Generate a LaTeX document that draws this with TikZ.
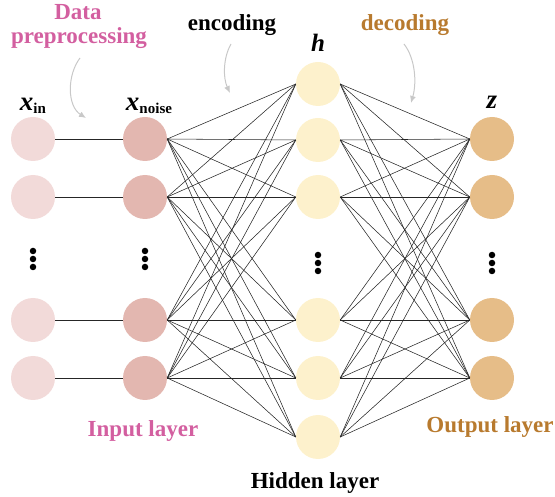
\documentclass[tikz,border=0pt]{standalone}
\usepackage{fontspec}
\setmainfont{Liberation Serif}
\usetikzlibrary{arrows.meta}
\definecolor{xinfill}{HTML}{F2DAD9}
\definecolor{noisefill}{HTML}{E3B7B0}
\definecolor{hidfill}{HTML}{FDF1CC}
\definecolor{outfill}{HTML}{E6BD88}
\definecolor{pinktext}{HTML}{D35FA0}
\definecolor{browntext}{HTML}{B87A2E}
\definecolor{pointer}{HTML}{C8C8C8}
\begin{document}
\begin{tikzpicture}[x=1pt,y=-1pt,
  neuron/.style={circle,draw=none,minimum size=44pt,inner sep=0pt},
  link/.style={draw=black!85,line width=0.55pt},
  lbl/.style={font=\fontsize{23}{27}\selectfont\bfseries,anchor=base,inner sep=0pt},
  var/.style={font=\fontsize{27}{31}\selectfont\bfseries\itshape,anchor=base,inner sep=0pt},
  pointerarrow/.style={draw=pointer,line width=1pt,-{Latex[length=7pt,width=6pt]}},
  dot/.style={circle,fill=black,minimum size=6.5pt,inner sep=0pt}]
\useasboundingbox (0,0) rectangle (555,497);

% layers
\foreach \i/\y in {1/139,2/197,3/320,4/378}{
  \node[neuron,fill=xinfill] (in\i) at (33,\y) {};
  \node[neuron,fill=noisefill] (ns\i) at (145,\y) {};
  \node[neuron,fill=outfill] (out\i) at (492,\y) {};
}
\foreach \j/\y in {1/84,2/140,3/197,4/320,5/378,6/437}{
  \node[neuron,fill=hidfill] (hd\j) at (318,\y) {};
}

% ellipsis dots
\foreach \x/\y in {33/251,145/251,318/255,492/255}{
  \node[dot] at (\x,\y) {};
  \node[dot] at (\x,\y+8) {};
  \node[dot] at (\x,\y+16) {};
}

% connections
\foreach \i in {1,...,4}{
  \draw[link] (in\i.east) -- (ns\i.west);
  \foreach \j in {1,...,6}{
    \draw[link] (ns\i.east) -- (hd\j.west);
    \draw[link] (hd\j.east) -- (out\i.west);
  }
}

% variable names
\node[var] (xin) at (33,111) {x\raisebox{-0.2ex}{\fontsize{15}{18}\selectfont\upshape in}};
\node[var] (xnoise) at (149,111) {x\raisebox{-0.2ex}{\fontsize{15}{18}\selectfont\upshape noise}};
\node[var,font=\fontsize{25}{29}\selectfont\bfseries\itshape] (hname) at (318,52) {h};
\node[var] (zname) at (492,109) {z};

% stage labels
\node[lbl,text=pinktext] (data) at (78,20) {Data};
\node[lbl,text=pinktext] (prep) at (79,44) {preprocessing};
\node[lbl] (enc) at (232,31) {encoding};
\node[lbl,text=browntext] (dec) at (405,31) {decoding};
\node[lbl,text=pinktext] (inlayer) at (143,437) {Input layer};
\node[lbl] (hidlayer) at (315,489) {Hidden layer};
\node[lbl,text=browntext] (outlayer) at (490,432) {Output layer};

% pointer arrows
\coordinate (p1s) at (80,58);
\coordinate (p1e) at (86,118);
\draw[pointerarrow] (p1s) .. controls (67,75) and (67,106) .. (p1e);
\coordinate (p2s) at (231,44);
\coordinate (p2e) at (230,93);
\draw[pointerarrow] (p2s) .. controls (223,58) and (223,78) .. (p2e);
\coordinate (p3s) at (404,44);
\coordinate (p3e) at (411,103);
\draw[pointerarrow] (p3s) .. controls (415,58) and (417,82) .. (p3e);
\end{tikzpicture}
\end{document}
